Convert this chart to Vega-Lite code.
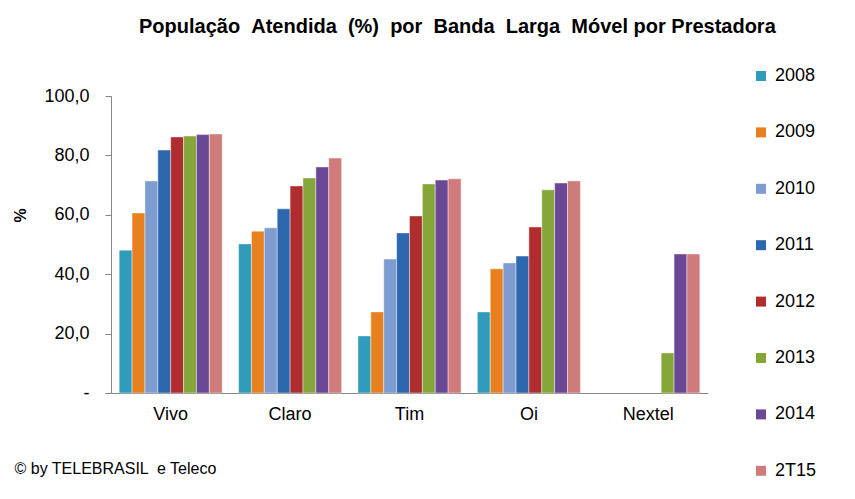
{
  "$schema": "https://vega.github.io/schema/vega-lite/v6.json",
  "autosize": {"type": "none"},
  "width": 597,
  "height": 297,
  "padding": {"left": 111, "top": 96, "right": 147, "bottom": 106},
  "background": "white",
  "config": {
    "font": "Liberation Sans",
    "view": {"stroke": null}
  },
  "title": {
    "text": "População \u00a0Atendida \u00a0(%) \u00a0por \u00a0Banda \u00a0Larga \u00a0Móvel por Prestadora",
    "anchor": "start",
    "dx": 127,
    "offset": 30,
    "font": "Liberation Sans",
    "fontSize": 20,
    "fontWeight": "bold",
    "color": "#000000"
  },
  "data": {
    "values": [
      {"op": "Vivo", "ano": "2008", "v": 48.1},
      {"op": "Vivo", "ano": "2009", "v": 60.6},
      {"op": "Vivo", "ano": "2010", "v": 71.4},
      {"op": "Vivo", "ano": "2011", "v": 81.8},
      {"op": "Vivo", "ano": "2012", "v": 86.2},
      {"op": "Vivo", "ano": "2013", "v": 86.5},
      {"op": "Vivo", "ano": "2014", "v": 87.0},
      {"op": "Vivo", "ano": "2T15", "v": 87.2},
      {"op": "Claro", "ano": "2008", "v": 50.2},
      {"op": "Claro", "ano": "2009", "v": 54.5},
      {"op": "Claro", "ano": "2010", "v": 55.6},
      {"op": "Claro", "ano": "2011", "v": 62.0},
      {"op": "Claro", "ano": "2012", "v": 69.7},
      {"op": "Claro", "ano": "2013", "v": 72.4},
      {"op": "Claro", "ano": "2014", "v": 76.1},
      {"op": "Claro", "ano": "2T15", "v": 79.1},
      {"op": "Tim", "ano": "2008", "v": 19.2},
      {"op": "Tim", "ano": "2009", "v": 27.3},
      {"op": "Tim", "ano": "2010", "v": 45.1},
      {"op": "Tim", "ano": "2011", "v": 53.9},
      {"op": "Tim", "ano": "2012", "v": 59.6},
      {"op": "Tim", "ano": "2013", "v": 70.4},
      {"op": "Tim", "ano": "2014", "v": 71.7},
      {"op": "Tim", "ano": "2T15", "v": 72.1},
      {"op": "Oi", "ano": "2008", "v": 27.3},
      {"op": "Oi", "ano": "2009", "v": 41.8},
      {"op": "Oi", "ano": "2010", "v": 43.8},
      {"op": "Oi", "ano": "2011", "v": 46.1},
      {"op": "Oi", "ano": "2012", "v": 55.9},
      {"op": "Oi", "ano": "2013", "v": 68.4},
      {"op": "Oi", "ano": "2014", "v": 70.7},
      {"op": "Oi", "ano": "2T15", "v": 71.4},
      {"op": "Nextel", "ano": "2013", "v": 13.5},
      {"op": "Nextel", "ano": "2014", "v": 46.8},
      {"op": "Nextel", "ano": "2T15", "v": 46.8}
    ]
  },
  "mark": {"type": "bar", "stroke": "white", "strokeWidth": 0.6, "strokeOpacity": 0.7},
  "encoding": {
    "x": {
      "field": "op",
      "type": "nominal",
      "sort": ["Vivo", "Claro", "Tim", "Oi", "Nextel"],
      "scale": {"paddingInner": 0.137, "paddingOuter": 0.0685},
      "axis": {
        "title": "© by TELEBRASIL \u00a0e Teleco",
        "titleAnchor": "start",
        "titleAlign": "left",
        "titleX": -97,
        "titleY": 75,
        "titleBaseline": "middle",
        "titleFont": "Liberation Sans",
        "titleFontSize": 16,
        "titleFontWeight": "normal",
        "titleColor": "#000000",
        "labelAngle": 0,
        "labelFontSize": 18,
        "labelColor": "#000000",
        "labelPadding": 12,
        "ticks": false,
        "domainColor": "#868686",
        "domainWidth": 1
      }
    },
    "xOffset": {
      "field": "ano",
      "type": "nominal",
      "scale": {"domain": ["2008", "2009", "2010", "2011", "2012", "2013", "2014", "2T15"], "paddingInner": 0, "paddingOuter": 0}
    },
    "y": {
      "field": "v",
      "type": "quantitative",
      "scale": {"domain": [0, 100], "nice": false},
      "axis": {
        "title": "%",
        "titleAngle": -90,
        "titleX": -91,
        "titleY": 119,
        "titleAlign": "center",
        "titleBaseline": "middle",
        "titleFontSize": 16,
        "titleFontWeight": "bold",
        "titleColor": "#000000",
        "values": [0, 20, 40, 60, 80, 100],
        "labelExpr": "datum.value == 0 ? '-' : replace(format(datum.value, '.1f'), '.', ',')",
        "labelFontSize": 18,
        "labelColor": "#000000",
        "labelPadding": 16,
        "tickSize": 6,
        "tickColor": "#868686",
        "domainColor": "#868686",
        "grid": false
      }
    },
    "color": {
      "field": "ano",
      "type": "nominal",
      "scale": {
        "domain": ["2008", "2009", "2010", "2011", "2012", "2013", "2014", "2T15"],
        "range": ["#2E9CBA", "#E7801F", "#7E9CCF", "#2D68AE", "#AF2D2F", "#85A73A", "#6A4895", "#CF7B7C"]
      },
      "legend": {
        "title": null,
        "orient": "none",
        "legendX": 641,
        "legendY": -29,
        "padding": 0,
        "symbolType": "square",
        "symbolSize": 100,
        "symbolStrokeWidth": 0,
        "labelFontSize": 18,
        "labelColor": "#000000",
        "labelOffset": 5,
        "rowPadding": 38.4
      }
    }
  }
}
